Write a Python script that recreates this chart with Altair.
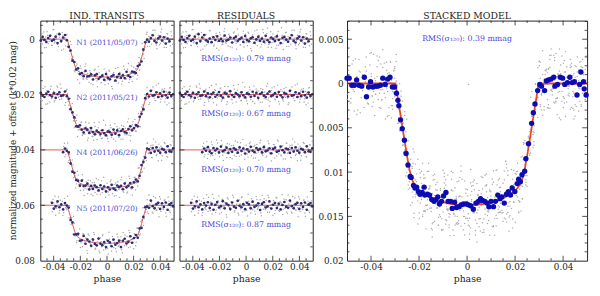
import altair as alt
import numpy as np
import pandas as pd

# ---------------- data ----------------
# transit model (phase, depth in mag)
MODEL_PHASE = [-0.050, -0.0298, -0.029, -0.028, -0.027, -0.026, -0.025, -0.024, -0.023, -0.022,
               -0.021, -0.020, -0.018, -0.016, -0.014, -0.012, -0.010, -0.007, -0.004, 0.0,
               0.004, 0.007, 0.010, 0.012, 0.014, 0.016, 0.018, 0.020, 0.021, 0.022,
               0.023, 0.024, 0.025, 0.026, 0.027, 0.028, 0.029, 0.0298, 0.050]
MODEL_DEPTH = [0.0, 0.0, 0.0014, 0.0031, 0.0048, 0.0065, 0.0082, 0.0097, 0.0108, 0.0114,
               0.0118, 0.0121, 0.0125, 0.0128, 0.0131, 0.0133, 0.0134, 0.0136, 0.0137, 0.0137,
               0.0137, 0.0136, 0.0134, 0.0133, 0.0131, 0.0128, 0.0125, 0.0121, 0.0118, 0.0114,
               0.0108, 0.0097, 0.0082, 0.0065, 0.0048, 0.0031, 0.0014, 0.0, 0.0]

OFFSETS = [0.0, 0.02, 0.04, 0.06]
NAMES = ["N1 (2011/05/07)", "N2 (2011/05/21)", "N4 (2011/06/26)", "N5 (2011/07/20)"]
RMS = ["0.79", "0.67", "0.70", "0.87"]
RMS_STACK = "0.39"

# binned points of each transit: phase bins (1e-4) and residuals (1e-4 mag)
BIN_PHASE = [-497, -483, -469, -455, -441, -427, -413, -399, -385, -371, -357, -343, -329, -315, -301,
             -287, -273, -259, -245, -231, -217, -203, -189, -175, -161, -147, -133, -119, -105, -91,
             -77, -63, -49, -35, -21, -7, 7, 21, 35, 49, 63, 77, 91, 105, 119, 133, 147, 161, 175,
             189, 203, 217, 231, 245, 259, 273, 287, 301, 315, 329, 343, 357, 371, 385, 399, 413,
             427, 441, 455, 469, 483, 497]
DARK_START = [0, 0, 12, 6]
DARK_N1 = [5, -8, 3, 10, -4, -12, 6, 2, -9, 14, -18, 7, -6, -15, 4, 9, -2, 11, -7, 3,
           -10, 6, -1, 8, -13, 5, 2, -6, 12, -4, -9, 7, 0, -5, 10, -11, 3, 8, -3, -7,
           13, 1, -8, 6, -2, 9, -12, 4, 11, -6, -1, 7, -10, 3, 14, -5, -8, 2, 9, -4,
           -14, 6, 12, -3, -9, 5, -7, 16, -2, 8]
DARK_N2 = [-6, 4, 9, -3, -10, 2, 7, -5, 12, -1, -8, 5, 3, -11, 6, -4, 10, -2, -7, 8,
           1, -9, 4, 11, -6, -3, 7, -12, 2, 9, -5, 0, 6, -8, 3, 10, -4, -1, 8, -10,
           5, -6, 12, -2, -7, 4, 9, -3, -11, 6, 1, -5, 8, -9, 3, 10, -6, -2, 7, -13,
           4, 2, -8, 9, -4, 6, -10, 3, 11, -7, 5, -1]
DARK_N4 = [8, -5, 3, -10, 6, 12, -7, 2, -4, 9, -12, 5, 1, -8, 11, -3, 7, -6, -1, 10,
           -9, 4, -5, 13, -2, 6, -11, 3, 8, -7, 0, -4, 9, -10, 5, 2, -6, 12, -3, -8,
           7, 4, -12, 1, 9, -5, -2, 11, -7, 6, -9, 3, 10, -4, -1, 8, -13, 5, 7, -6]
DARK_N5 = [-9, 12, 4, -14, 7, -3, 15, -8, 1, -11, 10, -5, 16, -2, -12, 8, 3, -15, 11, -6,
           -1, 13, -10, 5, 9, -16, 2, 7, -4, 14, -9, -3, 11, -13, 6, 1, -7, 17, -5, -11,
           8, 4, -14, 12, -2, -8, 10, -6, 15, -1, -12, 5, 9, -17, 3, 11, -4, -9, 13, -7,
           6, -10, 16, -3, -8, 4]

# unbinned points: phases (1e-4) and residuals (1e-4 mag)
RAW_PHASE_A = [-499, -488, -479, -470, -459, -450, -441, -429, -420, -411, -399, -390, -381, -370, -359,
               -351, -340, -331, -319, -310, -301, -290, -281, -269, -260, -251, -240, -229, -221, -210,
               -199, -190, -180, -171, -160, -149, -141, -130, -119, -111, -100, -89, -80, -71, -59,
               -50, -41, -30, -21, -10, 1, 10, 19, 30, 41, 50, 59, 70, 81, 90, 99, 110, 121, 130, 139,
               150, 161, 170, 179, 190, 201, 210, 219, 230, 241, 250, 261, 270, 279, 290, 301, 310, 321,
               330, 339, 350, 361, 370, 379, 390, 401, 410, 421, 430, 441, 450, 459, 470, 481, 492]
RAW_PHASE_B = [-494, -484, -474, -465, -455, -445, -435, -424, -415, -405, -395, -385, -375, -365, -355,
               -345, -335, -325, -315, -305, -295, -285, -275, -265, -255, -245, -235, -225, -215, -205,
               -195, -185, -175, -165, -155, -145, -135, -125, -115, -105, -95, -85, -75, -65, -55, -45,
               -35, -25, -15, -5, 5, 15, 25, 35, 45, 55, 65, 75, 85, 95, 105, 115, 125, 135, 145, 155,
               165, 175, 185, 195, 205, 215, 225, 235, 245, 255, 265, 275, 285, 295, 305, 315, 325, 335,
               345, 355, 365, 375, 385, 395, 405, 415, 425, 435, 445, 455, 465, 475, 485, 496]
GRAY_N1 = [12, -20, 5, 31, -8, -27, 16, 2, -14, 23, -35, 9, -3, 18, -22, 7, 40, -11, -1, 25,
           -17, 4, 14, -30, 10, -6, 21, -13, 33, -2, -24, 8, 19, -9, -38, 15, 3, -18, 27, -5,
           11, -26, 6, 36, -15, 0, 20, -10, -29, 13, -4, 24, -21, 9, 42, -16, 1, 17, -33, 7,
           -12, 28, -7, -23, 14, 5, -40, 19, -3, 30, -19, 10, -8, 22, -28, 3, 16, -14, 37, -6,
           -25, 11, 26, -1, -17, 8, -32, 21, 4, -11, 15, -36, 6, 29, -9, -20, 12, 2, -27, 18]
GRAY_N2 = [-15, 22, 7, -28, 3, 33, -10, -19, 14, 1, 26, -6, -31, 11, 18, -23, 5, -2, 39, -14,
           -8, 16, -25, 9, 2, 30, -17, -37, 12, 6, -21, 24, -4, 15, -12, 35, -29, 8, -1, 19,
           -33, 4, 27, -16, 10, -7, 21, -44, 13, 0, 23, -11, -26, 17, 6, -3, 32, -20, 9, -13,
           28, -5, -18, 14, 2, -30, 20, 41, -9, -24, 7, 16, -2, -34, 25, -12, 4, 18, -22, 11,
           -6, 36, -15, 1, -27, 13, 22, -8, -39, 9, 17, -19, 3, 27, -11, -4, 31, -25, 8, 14]
GRAY_N4 = [9, -24, 17, -6, 31, -13, 2, -29, 20, -3, 14, -36, 7, 25, -10, -18, 38, -1, 11, -22,
           4, 27, -15, -7, 19, -32, 12, 0, 23, -26, 6, -9, 34, -17, 15, -4, -28, 21, 3, -12,
           29, -20, 8, -2, -35, 16, 10, -14, 26, -5, -23, 13, 40, -8, -19, 5, 22, -31, 1, 18,
           -11, 33, -6, -25, 12, 7, -16, 28, -39, 3, 20, -10, -21, 15, 37, -3, -27, 9, 24, -13,
           6, -18]
GRAY_N5 = [-21, 14, 36, -8, -30, 19, 3, -15, 27, -4, 10, -38, 22, 6, -12, 31, -25, 1, 17, -7,
           -34, 13, 26, -19, 4, -10, 43, -23, 8, 15, -2, -29, 20, 11, -16, 35, -6, -27, 24, 2,
           -13, 18, -40, 9, 29, -11, -3, 21, -32, 14, 5, -20, 38, -9, -24, 16, 7, -36, 25, -1,
           12, -17, 30, -28, 3, 19, -14, -5, 33, -22, 10, 24, -37, 6, -12, 28, -3, -26, 17, 9,
           -31, 22, -7, 14, -19, 40, 1, -15, 26, -10, -4]
GRAY2_N1 = [-9, 17, -26, 4, 30, -13, 8, -2, 22, -34, 14, 1, -19, 27, -7, 11, -24, 36, -4, -15,
            20, 6, -31, 13, -10, 25, -1, -21, 9, 39, -16, 3, 18, -28, 12, -6, 24, -12, 0, 31,
            -22, 7, 15, -37, 5, 21, -9, -3, 28, -18, 10, -25, 2, 34, -11, 16, -30, 6, 23, -14,
            -1, 19, -35, 8, 13, -20, 29, -5, -27, 12, 4, -8, 33, -17, 22, -2, -41, 15, 7, -23,
            26, -10, 1, 18, -32, 9, -4, 35, -14, 20, -26, 3, 11, -7, 30, -19, 5, 24, -12, -1]
GRAY2_N2 = [18, -3, -22, 9, 35, -14, 5, 27, -30, 1, -11, 21, 12, -26, 7, -38, 16, 3, -8, 29,
            -19, 10, 24, -4, -33, 14, 0, -15, 38, -7, 6, -24, 19, 11, -29, 2, 26, -12, -5, 17,
            31, -20, 8, -1, -36, 13, 22, -10, 4, -27, 15, 33, -6, -17, 9, 25, -31, 1, -13, 20,
            -3, -22, 28, 6, -9, 16, -40, 12, 24, -15, 2, -28, 19, 8, -4, 34, -18, -11, 23, 5,
            -25, 13, 30, -2, -16, 7, 21, -34, 10, -6, 27, -13, 3, -21, 15, 37, -8, -24, 11, 0]
GRAY2_N4 = [-12, 25, 4, -30, 16, -3, 21, -19, 8, 35, -7, -25, 13, 2, -34, 19, 10, -13, 28, -5,
            -21, 6, 32, -16, 1, 24, -28, 11, -9, 18, -38, 7, 15, -2, 26, -22, 3, -11, 30, -17,
            12, -6, 37, -26, 5, 20, -14, -1, 23, -32, 9, 17, -8, -20, 29, 4, -36, 14, -4, 22,
            -15, 1, 33, -24, 10, -10, 27, -18, 6, -29, 16, 39, -7, -13, 21, 2, -23, 11, 26, -3,
            -19, 8, -31]
GRAY2_N5 = [23, -8, -33, 12, 4, 28, -18, -2, 37, -25, 9, 15, -12, -29, 20, 1, -40, 14, 26, -6,
            -16, 31, 5, -22, 11, -9, 34, -27, 3, 18, -13, -36, 24, 7, -4, 29, -19, 13, -31, 2,
            21, -10, 39, -15, 6, -24, 16, -1, 32, -21, 10, -7, 27, -35, 14, 4, -17, 25, -28, 8,
            -3, 36, -12, 19, -26, 1, 22, -9, -39, 15, 11, -20, 30, -5, -14, 24, -32, 6, 17, -11,
            41, -23, 2, 13, -18, 28, -7, -30, 20, 5, -16]
# which phase set / first index each unbinned list uses
GRAY_LISTS = [
    (0, "A", 0, GRAY_N1), (0, "B", 0, GRAY2_N1),
    (1, "B", 0, GRAY_N2), (1, "A", 0, GRAY2_N2),
    (2, "A", 17, GRAY_N4), (2, "B", 17, GRAY2_N4),
    (3, "B", 9, GRAY_N5), (3, "A", 9, GRAY2_N5),
]
STRAY_PHASE = [6]
STRAY_MAG = [1]

# stacked binned points (phase 1e-4, mag 1e-4)
BLUE_PHASE = [-500, -491, -480, -470, -460, -450, -439, -428, -419, -410, -402, -392, -381, -372, -361,
              -351, -341, -331, -321, -311, -302, -294, -288, -284, -277, -270, -261, -254, -246, -237,
              -233, -223, -217, -210, -203, -196, -187, -179, -176, -165, -156, -147, -138, -129, -122,
              -115, -106, -98, -88, -79, -68, -62, -52, -44, -34, -25, -14, -3, 6, 15, 26, 37, 47, 56,
              64, 74, 83, 91, 100, 110, 118, 128, 137, 145, 155, 164, 172, 181, 188, 199, 209, 215,
              222, 229, 240, 245, 256, 269, 276, 283, 294, 303, 310, 323, 330, 339, 350, 361, 366,
              377, 388, 398, 407, 418, 428, 438, 447, 458, 469, 474, 485, 488, 496]
BLUE_MAG = [-6, -6, 2, 2, -4, 2, 3, -7, 15, 4, -2, 4, 3, 3, 2,
            -6, 1, -5, -7, 4, 4, 11, 19, 25, 41, 51, 64, 79, 92, 105,
            106, 115, 118, 117, 122, 125, 123, 117, 126, 125, 126, 131, 133, 131, 128,
            136, 133, 127, 123, 133, 133, 141, 134, 140, 139, 137, 136, 136, 137, 138, 142, 135, 133, 130,
            132, 133, 135, 139, 133, 139, 133, 126, 130, 128, 135, 125, 122, 126, 118, 122, 113, 108,
            111, 103, 99, 85, 68, 45, 33, 23, 8, 1, 3, 8, -3, -4, -5, -7, 3,
            1, -7, -6, 1, -1, -7, -1, -2, 13, 1, -13, -2, 6, 13]

X_MAJOR = [-0.04, -0.02, 0.0, 0.02, 0.04]
X_MINOR = [-0.045, -0.035, -0.03, -0.025, -0.015, -0.01, -0.005, 0.005, 0.01, 0.015,
           0.025, 0.03, 0.035, 0.045]
Y1_LABELS = [0.0, 0.02, 0.04, 0.06, 0.08]
Y1_MAJOR = [0.0, 0.02, 0.04, 0.06]
Y1_MINOR = [-0.005, 0.005, 0.01, 0.015, 0.025, 0.03, 0.035, 0.045, 0.05, 0.055, 0.065, 0.07, 0.075]
Y3_LABELS = [-0.005, 0.0, 0.005, 0.01, 0.015, 0.02]
Y3_MAJOR = [-0.005, 0.0, 0.005, 0.01, 0.015]
Y3_MINOR = [-0.007, -0.006, -0.004, -0.003, -0.002, -0.001, 0.001, 0.002, 0.003, 0.004, 0.006, 0.007,
            0.008, 0.009, 0.011, 0.012, 0.013, 0.014, 0.016, 0.017, 0.018, 0.019]

# ---------------- tables ----------------
def model(ph):
    return np.interp(ph, MODEL_PHASE, MODEL_DEPTH)

dark_lists = [DARK_N1, DARK_N2, DARK_N4, DARK_N5]
raw_sets = {"A": RAW_PHASE_A, "B": RAW_PHASE_B}

p1_dark, p2_dark, p1_gray, p2_gray, p3_gray, p1_model, p2_model = [], [], [], [], [], [], []
for i, off in enumerate(OFFSETS):
    for ph, r in zip(BIN_PHASE[DARK_START[i]:], dark_lists[i]):
        p = ph * 1e-4
        p1_dark.append({"phase": p, "mag": off + model(p) + r * 1e-4})
        p2_dark.append({"phase": p, "mag": off + r * 1e-4})
    for ph, d in zip(MODEL_PHASE, MODEL_DEPTH):
        p1_model.append({"phase": ph, "mag": off + d, "t": i})
    for ph in (MODEL_PHASE[0], MODEL_PHASE[-1]):
        p2_model.append({"phase": ph, "mag": off, "t": i})
for i, s, start, res in GRAY_LISTS:
    off = OFFSETS[i]
    for ph, r in zip(raw_sets[s][start:], res):
        p = ph * 1e-4
        p1_gray.append({"phase": p, "mag": off + model(p) + r * 1e-4})
        p2_gray.append({"phase": p, "mag": off + r * 1e-4})
        p3_gray.append({"phase": p, "mag": model(p) + r * 1e-4})
for ph, m in zip(STRAY_PHASE, STRAY_MAG):
    p3_gray.append({"phase": ph * 1e-4, "mag": m * 1e-4})

p1_dark, p2_dark = pd.DataFrame(p1_dark), pd.DataFrame(p2_dark)
p1_gray, p2_gray, p3_gray = pd.DataFrame(p1_gray), pd.DataFrame(p2_gray), pd.DataFrame(p3_gray)
p1_model, p2_model = pd.DataFrame(p1_model), pd.DataFrame(p2_model)
p3_model = pd.DataFrame({"phase": MODEL_PHASE, "mag": MODEL_DEPTH})
p3_blue = pd.DataFrame({"phase": [v * 1e-4 for v in BLUE_PHASE], "mag": [v * 1e-4 for v in BLUE_MAG]})

p1_text = pd.DataFrame({"phase": [0.0] * 4, "mag": [o + 0.0013 for o in OFFSETS], "txt": NAMES})
p2_text = pd.DataFrame({"phase": [0.0] * 4, "mag": [o + 0.0072 for o in OFFSETS],
                        "txt": [f"RMS(σ₁₂₀): {r} mmag" for r in RMS]})
p3_text = pd.DataFrame({"phase": [0.0], "mag": [-0.005], "txt": [f"RMS(σ₁₂₀): {RMS_STACK} mmag"]})
one = pd.DataFrame({"a": [0]})

# ---------------- styling ----------------
FONT = "DejaVu Serif"
INK = "#222222"
W12, W3, H = 136, 245, 245
XS = alt.Scale(domain=[-0.05, 0.05], nice=False, zero=False)
YS1 = alt.Scale(domain=[-0.0067, 0.08], reverse=True, nice=False, zero=False)
YS3 = alt.Scale(domain=[-0.0071, 0.02], reverse=True, nice=False, zero=False)
common = dict(ticks=False, tickSize=0, domain=False, grid=False, labelFont=FONT, labelFontSize=9,
              labelColor=INK, titleFont=FONT, titleFontSize=9.5, titleColor=INK, titleFontWeight="normal",
              labelFlush=False, labelOverlap=False)
NEG = "datum.value < 0 ? '-' + format(-datum.value, '~g') : format(datum.value, '~g')"
AX_X = alt.Axis(values=X_MAJOR, labelExpr=NEG, title="phase", labelPadding=2, titlePadding=2.5, **common)
AX_Y1 = alt.Axis(values=Y1_LABELS, labelExpr="format(datum.value, '~g')", title=None, labelPadding=6, **common)
AX_Y3 = alt.Axis(values=Y3_LABELS, labelExpr="format(abs(datum.value), '~g')", title=None, labelPadding=4, **common)

X12 = alt.X("phase:Q", scale=XS, axis=AX_X)
Y1 = alt.Y("mag:Q", scale=YS1, axis=AX_Y1)
Y2 = alt.Y("mag:Q", scale=YS1, axis=None)
Y3 = alt.Y("mag:Q", scale=YS3, axis=AX_Y3)


def ticks(xenc, yenc, W, xmaj, xmin, ymaj, ymin, lmaj=5, lmin=2.5):
    out = []
    for vals, L in ((xmaj, lmaj), (xmin, lmin)):
        d = pd.DataFrame({"phase": vals})
        out.append(alt.Chart(d).mark_rule(color=INK, strokeWidth=0.8).encode(
            x=xenc, y=alt.value(H), y2=alt.value(H - L)))
        out.append(alt.Chart(d).mark_rule(color=INK, strokeWidth=0.8).encode(
            x=xenc, y=alt.value(0), y2=alt.value(L)))
    for vals, L in ((ymaj, lmaj), (ymin, lmin)):
        d = pd.DataFrame({"mag": vals})
        out.append(alt.Chart(d).mark_rule(color=INK, strokeWidth=0.8).encode(
            y=yenc, x=alt.value(0), x2=alt.value(L)))
        out.append(alt.Chart(d).mark_rule(color=INK, strokeWidth=0.8).encode(
            y=yenc, x=alt.value(W), x2=alt.value(W - L)))
    return out


def title(text, W):
    return alt.Chart(one).mark_text(text=text, font=FONT, fontSize=9.5, color=INK, align="center",
                                    baseline="alphabetic").encode(x=alt.value(W / 2), y=alt.value(-1.5))


def spacer(xpix):
    return alt.Chart(one).mark_rule(opacity=0, strokeWidth=1).encode(
        x=alt.value(xpix), y=alt.value(-9), y2=alt.value(0))


GRAY = dict(size=2.2, color="#a4a4a4", opacity=1)
DARK = dict(size=7.5, color="#2c2c74", opacity=1)

# ---------------- panel 1 ----------------
p1 = alt.layer(
    alt.Chart(p1_gray).mark_circle(**GRAY).encode(x=X12, y=Y1),
    alt.Chart(p1_model).mark_line(color="#e04545", strokeWidth=0.9).encode(x=X12, y=Y1, detail="t:N"),
    alt.Chart(p1_dark).mark_circle(**DARK).encode(x=X12, y=Y1),
    alt.Chart(p1_text).mark_text(font=FONT, fontSize=7.5, color="#4a4ad8", align="center",
                                 baseline="middle").encode(x=X12, y=Y1, text="txt:N"),
    *ticks(X12, Y1, W12, X_MAJOR, X_MINOR, Y1_MAJOR, Y1_MINOR),
    title("IND. TRANSITS", W12),
    alt.Chart(one).mark_text(text="normalized magnitude + offset (k*0.02 mag)", font=FONT, fontSize=9,
                             color=INK, angle=270, align="center", baseline="alphabetic").encode(
        x=alt.value(-25), y=alt.value(H / 2)),
    spacer(-32.5),
).properties(width=W12, height=H)

# ---------------- panel 2 ----------------
p2 = alt.layer(
    alt.Chart(p2_gray).mark_circle(**GRAY).encode(x=X12, y=Y2),
    alt.Chart(p2_model).mark_line(color="#e04545", strokeWidth=0.9).encode(x=X12, y=Y2, detail="t:N"),
    alt.Chart(p2_dark).mark_circle(**DARK).encode(x=X12, y=Y2),
    alt.Chart(p2_text).mark_text(font=FONT, fontSize=8, color="#4a4ad8", align="center",
                                 baseline="middle").encode(x=X12, y=Y2, text="txt:N"),
    *ticks(X12, Y2, W12, X_MAJOR, X_MINOR, Y1_MAJOR, Y1_MINOR),
    title("RESIDUALS", W12),
).properties(width=W12, height=H)

# ---------------- panel 3 ----------------
p3 = alt.layer(
    alt.Chart(p3_gray).mark_circle(size=2.2, color="#aaaaaa", opacity=1).encode(x=X12, y=Y3),
    alt.Chart(p3_model).mark_line(color="#e8481e", strokeWidth=1.8).encode(x=X12, y=Y3),
    alt.Chart(p3_blue).mark_circle(size=30, color="#0c0cb4", opacity=1).encode(x=X12, y=Y3),
    alt.Chart(p3_text).mark_text(font=FONT, fontSize=8, color="#4a4ad8", align="center",
                                 baseline="middle").encode(x=X12, y=Y3, text="txt:N"),
    *ticks(X12, Y3, W3, X_MAJOR, X_MINOR, Y3_MAJOR, Y3_MINOR),
    title("STACKED MODEL", W3),
    spacer(-31.5),
).properties(width=W3, height=H)

chart = alt.hconcat(p1, p2, p3, spacing=0).properties(
    padding=0, background="white"
).configure_view(stroke=INK, strokeWidth=1)

chart.save("out.html", embed_options={"renderer": "svg", "actions": False})
